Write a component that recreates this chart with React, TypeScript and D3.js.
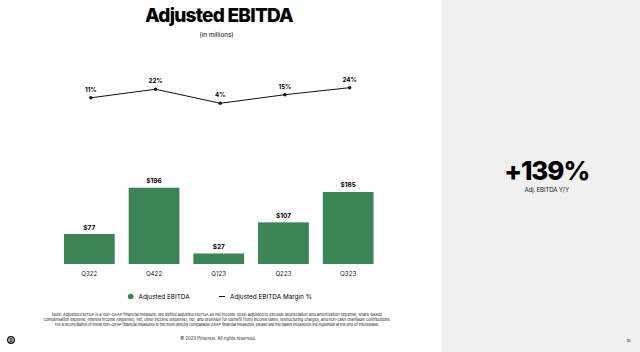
import React, { useEffect, useRef } from "react";
import * as d3 from "d3";

const quarters = ["Q322", "Q422", "Q123", "Q223", "Q323"];
const ebitda = [77, 196, 27, 107, 185];
const margin = [11, 22, 4, 15, 24];

const noteLines = [
  "Note: Adjusted EBITDA is a non-GAAP financial measure. We define adjusted EBITDA as net income (loss) adjusted to exclude depreciation and amortization expense, share-based",
  "compensation expense, interest income (expense), net, other income (expense), net, and provision for (benefit from) income taxes, restructuring charges, and non-cash charitable contributions.",
  "For a reconciliation of these non-GAAP financial measures to the most directly comparable GAAP financial measures, please see the tables included in the Appendix at the end of this release.",
];

const W = 640, H = 352;
const green = "#3a8456";
const font = "Inter, 'Liberation Sans', sans-serif";

export default function App() {
  const ref = useRef<SVGSVGElement>(null);

  useEffect(() => {
    const svg = d3.select(ref.current);
    svg.selectAll("*").remove();

    svg.append("rect").attr("width", W).attr("height", H).attr("fill", "#fff");
    svg.append("rect").attr("x", 442).attr("width", W - 442).attr("height", H).attr("fill", "#f0f0f0");

    // title
    svg.append("text").attr("x", 219).attr("y", 21.5).attr("text-anchor", "middle")
      .style("font-family", font).style("font-weight", 800).style("font-size", "19px")
      .style("letter-spacing", "-0.75px").text("Adjusted EBITDA");
    svg.append("text").attr("x", 216.5).attr("y", 36.5).attr("text-anchor", "middle")
      .style("font-family", font).style("font-size", "6.3px").text("(in millions)");

    // bars
    const x = d3.scaleBand().domain(quarters).range([50, 387.5]).padding(0.216);
    const y = d3.scaleLinear().domain([0, 196]).range([264, 187.7]);

    svg.append("g").selectAll("rect").data(ebitda).enter().append("rect")
      .attr("x", (d, i) => x(quarters[i])!)
      .attr("y", d => y(d))
      .attr("width", x.bandwidth())
      .attr("height", d => y(0) - y(d))
      .attr("fill", green);

    svg.append("g").selectAll("text").data(ebitda).enter().append("text")
      .attr("x", (d, i) => x(quarters[i])! + x.bandwidth() / 2)
      .attr("y", d => y(d) - 4.5)
      .attr("text-anchor", "middle")
      .style("font-family", font).style("font-weight", 700).style("font-size", "6.5px")
      .text(d => "$" + d);

    svg.append("g").selectAll("text").data(quarters).enter().append("text")
      .attr("x", d => x(d)! + x.bandwidth() / 2)
      .attr("y", 275.8)
      .attr("text-anchor", "middle")
      .style("font-family", font).style("font-size", "6.2px").style("fill", "#222")
      .text(d => d);

    // margin line
    const ym = d3.scaleLinear().domain([0, 30]).range([106.4, 83]);
    const xm = (i: number) => x(quarters[i])! + x.bandwidth() / 2 + 1.5;
    const line = d3.line<number>().x((d, i) => xm(i)).y(d => ym(d));
    svg.append("path").datum(margin).attr("d", line)
      .attr("fill", "none").attr("stroke", "#111").attr("stroke-width", 1);
    svg.append("g").selectAll("circle").data(margin).enter().append("circle")
      .attr("cx", (d, i) => xm(i)).attr("cy", d => ym(d)).attr("r", 1.7).attr("fill", "#111");
    svg.append("g").selectAll("text").data(margin).enter().append("text")
      .attr("x", (d, i) => xm(i)).attr("y", d => ym(d) - 6)
      .attr("text-anchor", "middle")
      .style("font-family", font).style("font-weight", 700).style("font-size", "6.2px")
      .text(d => d + "%");

    // legend
    const lg = svg.append("g").style("font-family", font).style("font-size", "6.4px");
    lg.append("circle").attr("cx", 130.7).attr("cy", 296.5).attr("r", 2.8).attr("fill", green);
    lg.append("text").attr("x", 138.5).attr("y", 298.7).text("Adjusted EBITDA");
    lg.append("line").attr("x1", 219).attr("x2", 225).attr("y1", 296.5).attr("y2", 296.5)
      .attr("stroke", "#111").attr("stroke-width", 1);
    lg.append("text").attr("x", 230).attr("y", 298.7).text("Adjusted EBITDA Margin %");

    // note
    svg.append("g").selectAll("text").data(noteLines).enter().append("text")
      .attr("x", 217).attr("y", (d, i) => 316 + i * 5)
      .attr("text-anchor", "middle")
      .attr("textLength", (d, i) => [330, 347, 324][i])
      .style("font-family", font).style("font-size", "4px").style("fill", "#222")
      .text(d => d);

    svg.append("text").attr("x", 218).attr("y", 339.8).attr("text-anchor", "middle")
      .style("font-family", font).style("font-size", "4.3px").style("fill", "#222")
      .text("© 2023 Pinterest. All rights reserved.");

    // logo
    svg.append("circle").attr("cx", 11).attr("cy", 340).attr("r", 3.3)
      .attr("fill", "#fff").attr("stroke", "#111").attr("stroke-width", 1.3);
    svg.append("text").attr("x", 11).attr("y", 342).attr("text-anchor", "middle")
      .style("font-family", font).style("font-weight", 800).style("font-size", "5.5px").attr("fill", "#111").text("p");

    // side stat
    svg.append("text").attr("x", 546.7).attr("y", 180).attr("text-anchor", "middle")
      .style("font-family", font).style("font-weight", 800).style("font-size", "26px")
      .style("letter-spacing", "-1.1px").text("+139%");
    svg.append("text").attr("x", 546.7).attr("y", 192.2).attr("text-anchor", "middle")
      .style("font-family", font).style("font-size", "6.2px").style("fill", "#222")
      .style("letter-spacing", "-0.2px").text("Adj. EBITDA Y/Y");

    svg.append("text").attr("x", 628.5).attr("y", 341.5).attr("text-anchor", "middle")
      .style("font-family", font).style("font-size", "4px").text("10");
  }, []);

  return (
    <svg ref={ref} width={W} height={H} style={{ position: "absolute", left: 0, top: 0, display: "block" }} />
  );
}
